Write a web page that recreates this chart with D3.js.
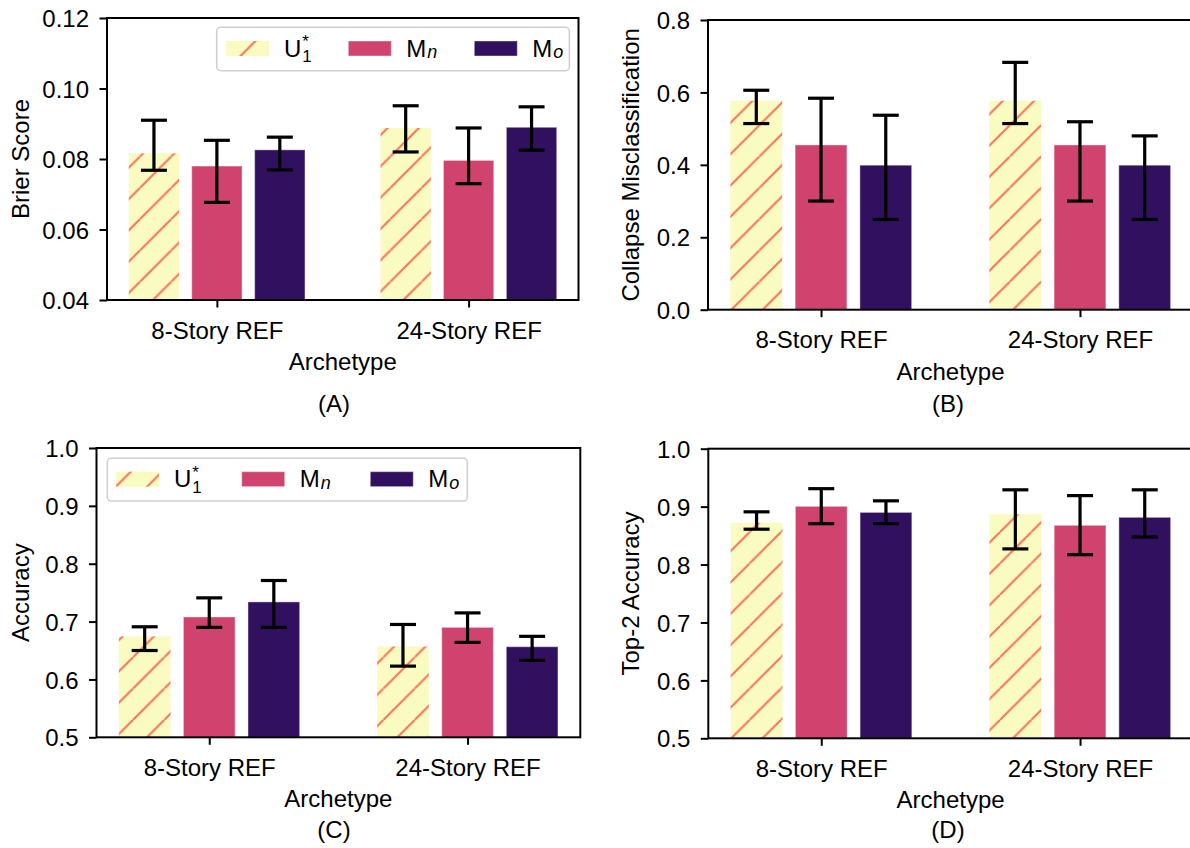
<!DOCTYPE html>
<html>
<head>
<meta charset="utf-8">
<script src="https://cdn.jsdelivr.net/npm/d3@7"></script>
<style>
  html, body { margin: 0; padding: 0; background: #fff; }
  svg { display: block; }
  text { font-family: "Liberation Sans", Arial, Helvetica, sans-serif; fill: #000; }
</style>
</head>
<body>
<script>
// Archetypes on the x axis and the three compared models
const categories = ["8-Story REF", "24-Story REF"];
const seriesKeys = ["U1", "Mn", "Mo"];
const seriesColors = ["#f9fbc0", "#d0436e", "#30105f"];
const hatchColor = "#f7745f";

// Brier score: mean and interval bounds, [archetype][model]
const brierMean = [[0.0816, 0.0780, 0.0826], [0.0888, 0.0796, 0.0890]];
const brierLow  = [[0.0768, 0.0677, 0.0769], [0.0820, 0.0730, 0.0825]];
const brierHigh = [[0.0910, 0.0853, 0.0862], [0.0951, 0.0888, 0.0948]];
const brierTicks = [0.04, 0.06, 0.08, 0.10, 0.12];

// Collapse misclassification
const collapseMean = [[0.577, 0.455, 0.399], [0.577, 0.455, 0.399]];
const collapseLow  = [[0.514, 0.300, 0.249], [0.514, 0.300, 0.249]];
const collapseHigh = [[0.606, 0.584, 0.537], [0.683, 0.519, 0.480]];
const collapseTicks = [0.0, 0.2, 0.4, 0.6, 0.8];

// Accuracy
const accMean = [[0.6745, 0.708, 0.734], [0.657, 0.690, 0.6566]];
const accLow  = [[0.650, 0.690, 0.690], [0.623, 0.664, 0.633]];
const accHigh = [[0.691, 0.741, 0.771], [0.695, 0.715, 0.6745]];
const accTicks = [0.5, 0.6, 0.7, 0.8, 0.9, 1.0];

// Top-2 accuracy
const top2Mean = [[0.872, 0.9005, 0.890], [0.8867, 0.8677, 0.8815]];
const top2Low  = [[0.861, 0.8705, 0.8705], [0.827, 0.817, 0.8475]];
const top2High = [[0.891, 0.931, 0.910], [0.929, 0.919, 0.929]];
const top2Ticks = [0.5, 0.6, 0.7, 0.8, 0.9, 1.0];

const W = 1190, H = 848;
const svg = d3.select("body").append("svg").attr("width", W).attr("height", H);
const defs = svg.append("defs");

// Diagonal "/" hatch for the U1* bars; each panel gets its own phase
const P = 31.3;
function makeHatch(id, phase) {
  const pat = defs.append("pattern")
    .attr("id", id)
    .attr("patternUnits", "userSpaceOnUse")
    .attr("width", P).attr("height", P)
    .attr("patternTransform", `translate(${phase},0)`);
  pat.append("rect").attr("width", P).attr("height", P).attr("fill", seriesColors[0]);
  [[-P, P, 0, 0], [0, P, P, 0], [P, P, 2 * P, 0]].forEach(d => {
    pat.append("line")
      .attr("x1", d[0]).attr("y1", d[1]).attr("x2", d[2]).attr("y2", d[3])
      .attr("stroke", hatchColor).attr("stroke-width", 2.1);
  });
  return `url(#${id})`;
}

const offsets = [-0.25, 0, 0.25];
const barW = 0.2;
const FS = 24;

function drawPanel(p) {
  const hatch = makeHatch("hatch" + p.id, p.phase);
  const fillFor = i => i === 0 ? hatch : seriesColors[i];
  const x = d3.scaleLinear().domain([-0.4365, 1.4365]).range([p.left, p.right]);
  const y = d3.scaleLinear().domain(p.domain).range([p.bottom, p.top]);
  const g = svg.append("g");

  const rows = categories.flatMap((c, ci) => seriesKeys.map((s, si) => ({
    ci, si, mean: p.mean[ci][si], low: p.low[ci][si], high: p.high[ci][si]
  })));

  // bars
  g.selectAll("rect.bar").data(rows).join("rect")
    .attr("class", "bar")
    .attr("x", d => x(d.ci + offsets[d.si] - barW / 2))
    .attr("width", d => x(d.ci + offsets[d.si] + barW / 2) - x(d.ci + offsets[d.si] - barW / 2))
    .attr("y", d => y(d.mean))
    .attr("height", d => y(p.domain[0]) - y(d.mean))
    .attr("fill", d => fillFor(d.si))
    .attr("stroke", d => d.si === 0 ? "none" : "rgba(255,255,255,0.35)")
    .attr("stroke-width", 1.2);

  // error bars
  const cap = 13;
  const eb = g.selectAll("g.err").data(rows).join("g").attr("class", "err")
    .attr("stroke", "#000").attr("stroke-width", 3.2);
  eb.append("line")
    .attr("x1", d => x(d.ci + offsets[d.si])).attr("x2", d => x(d.ci + offsets[d.si]))
    .attr("y1", d => y(d.low)).attr("y2", d => y(d.high));
  eb.append("line")
    .attr("x1", d => x(d.ci + offsets[d.si]) - cap).attr("x2", d => x(d.ci + offsets[d.si]) + cap)
    .attr("y1", d => y(d.low)).attr("y2", d => y(d.low));
  eb.append("line")
    .attr("x1", d => x(d.ci + offsets[d.si]) - cap).attr("x2", d => x(d.ci + offsets[d.si]) + cap)
    .attr("y1", d => y(d.high)).attr("y2", d => y(d.high));

  // y axis
  const ya = g.append("g").attr("transform", `translate(${p.left},0)`)
    .call(d3.axisLeft(y).tickValues(p.ticks).tickFormat(d3.format(p.fmt))
      .tickSize(7.5).tickPadding(10.5).tickSizeOuter(0));
  ya.select(".domain").remove();
  ya.selectAll(".tick line").attr("stroke", "#000").attr("stroke-width", 2);
  ya.selectAll(".tick text").attr("font-size", FS).attr("font-family", null).attr("dy", "0.36em");

  // x axis
  const xa = g.append("g").attr("transform", `translate(0,${p.bottom})`)
    .call(d3.axisBottom(x).tickValues([0, 1]).tickFormat(i => categories[i])
      .tickSize(7.5).tickPadding(14).tickSizeOuter(0));
  xa.select(".domain").remove();
  xa.selectAll(".tick line").attr("stroke", "#000").attr("stroke-width", 2);
  xa.selectAll(".tick text").attr("font-size", FS).attr("font-family", null);

  // spines
  g.append("rect")
    .attr("x", p.left).attr("y", p.top)
    .attr("width", p.right - p.left).attr("height", p.bottom - p.top)
    .attr("fill", "none").attr("stroke", "#000").attr("stroke-width", 2);

  // axis titles and panel tag
  g.append("text")
    .attr("transform", `translate(${p.yTitleX},${(p.top + p.bottom) / 2}) rotate(-90)`)
    .attr("text-anchor", "middle").attr("font-size", FS).text(p.yTitle);
  g.append("text")
    .attr("x", (p.left + p.right) / 2).attr("y", p.bottom + 70)
    .attr("text-anchor", "middle").attr("font-size", FS).text("Archetype");
  g.append("text")
    .attr("x", p.tagX).attr("y", p.tagY)
    .attr("text-anchor", "middle").attr("font-size", FS).text(p.tag);

  if (p.legend) drawLegend(p.legend, fillFor);
}

function drawLegend(L, fillFor) {
  const g = svg.append("g");
  g.append("rect")
    .attr("x", L.x).attr("y", L.y).attr("width", L.w).attr("height", L.h)
    .attr("rx", 4).attr("fill", "rgba(255,255,255,0.85)")
    .attr("stroke", "#d0d0d0").attr("stroke-width", 1.6);
  seriesKeys.forEach((s, i) => {
    const px = L.x + L.starts[i];
    const py = L.y + L.h / 2 - 8;
    g.append("rect").attr("x", px).attr("y", py).attr("width", 43).attr("height", 15)
      .attr("fill", fillFor(i))
      .attr("stroke", i === 0 ? "none" : "rgba(255,255,255,0.35)").attr("stroke-width", 1.2);
    const t = g.append("text").attr("x", px + 58).attr("y", py + 15.5).attr("font-size", FS);
    if (i === 0) {
      t.append("tspan").text("U");
      t.append("tspan").attr("font-size", 17).attr("dx", 1).attr("dy", 5.5).text("1");
      t.append("tspan").attr("font-size", 17).attr("dx", -9.5).attr("dy", -15).text("*");
    } else {
      t.append("tspan").text("M");
      t.append("tspan").attr("font-size", 18).attr("font-style", "italic").attr("dx", 1).attr("dy", 1.5)
        .text(i === 1 ? "n" : "o");
    }
  });
}

drawPanel({
  id: "A", phase: 14.8,
  left: 107, right: 578.5, top: 18, bottom: 300,
  domain: [0.04, 0.12], ticks: brierTicks, fmt: ".2f",
  mean: brierMean, low: brierLow, high: brierHigh,
  yTitle: "Brier Score", yTitleX: 28.5, tag: "(A)", tagX: 334, tagY: 412,
  legend: { x: 216.7, y: 27.3, w: 352.7, h: 43.4, starts: [9.3, 131.6, 257.6] }
});
drawPanel({
  id: "B", phase: 8.2,
  left: 708, right: 1193, top: 20, bottom: 309.7,
  domain: [0, 0.8], ticks: collapseTicks, fmt: ".1f",
  mean: collapseMean, low: collapseLow, high: collapseHigh,
  yTitle: "Collapse Misclassification", yTitleX: 639, tag: "(B)", tagX: 948, tagY: 412
});
drawPanel({
  id: "C", phase: 7.8,
  left: 96.5, right: 580.3, top: 448, bottom: 737.3,
  domain: [0.5, 1.0], ticks: accTicks, fmt: ".1f",
  mean: accMean, low: accLow, high: accHigh,
  yTitle: "Accuracy", yTitleX: 28.5, tag: "(C)", tagX: 334, tagY: 838,
  legend: { x: 107.3, y: 458.3, w: 360, h: 42.7, starts: [8.7, 134.4, 263] }
});
drawPanel({
  id: "D", phase: 29.7,
  left: 708.3, right: 1193, top: 448.7, bottom: 738.3,
  domain: [0.5, 1.0], ticks: top2Ticks, fmt: ".1f",
  mean: top2Mean, low: top2Low, high: top2High,
  yTitle: "Top-2 Accuracy", yTitleX: 639, tag: "(D)", tagX: 948, tagY: 838
});
</script>
</body>
</html>
